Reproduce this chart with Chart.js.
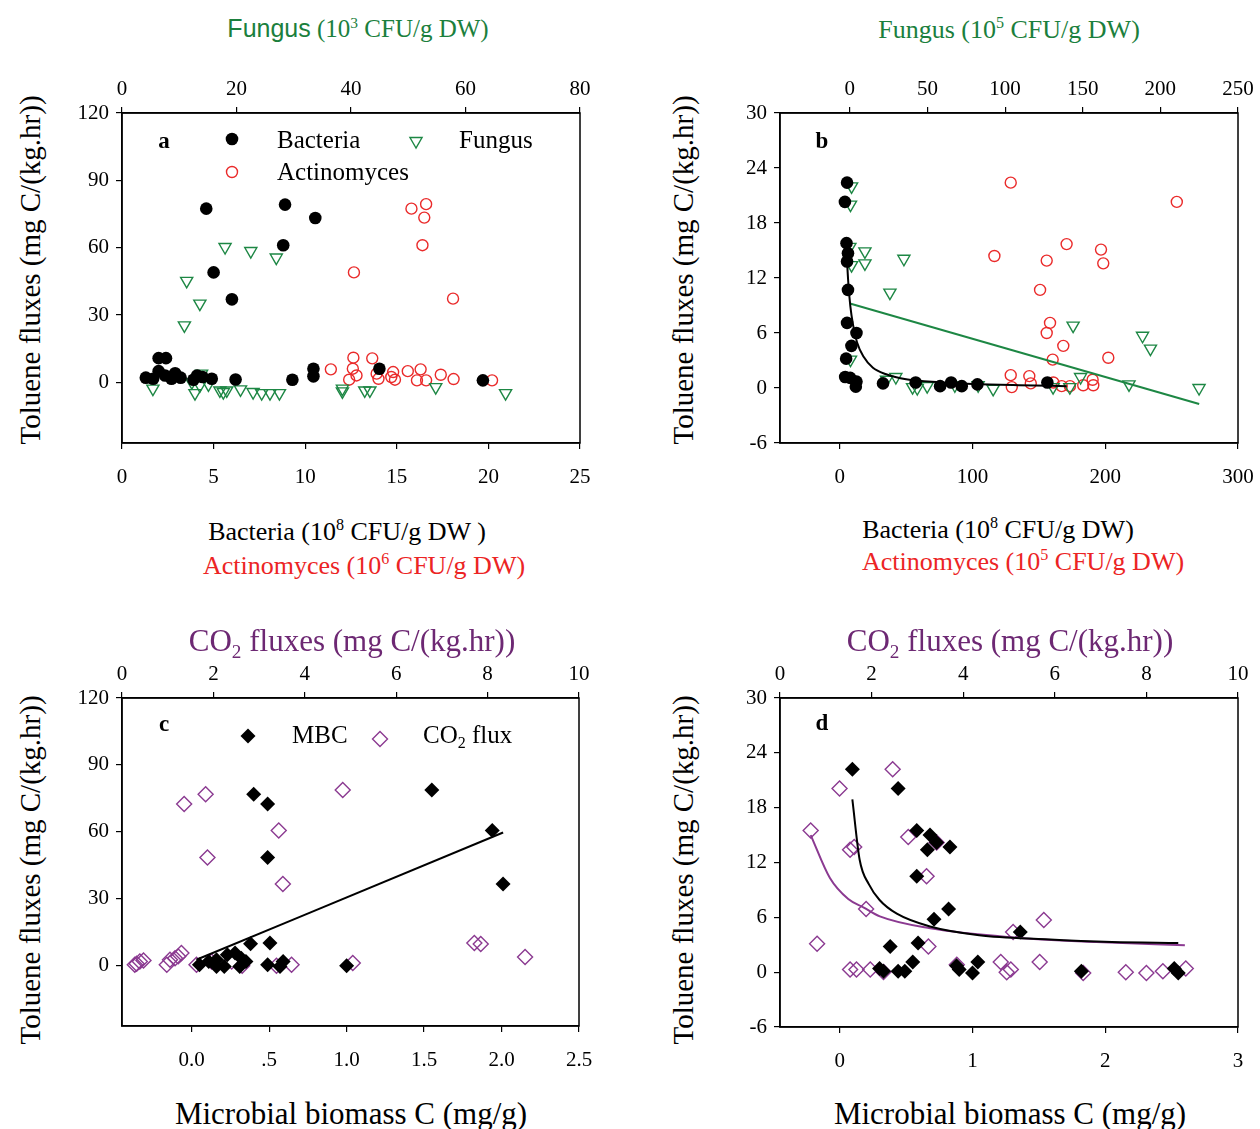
<!DOCTYPE html>
<html>
<head>
<meta charset="utf-8">
<script src="https://cdn.jsdelivr.net/npm/chart.js"></script>
<style>
body { margin: 0; background: #fff; }
#page { position: relative; width: 1260px; height: 1129px; overflow: hidden; font-family: "Liberation Serif", serif; }
canvas { position: absolute; }
.t { position: absolute; transform: translate(-50%, -50%); white-space: nowrap; font-size: 26px; line-height: 1; color: #000; }
.v { transform: translate(-50%, -50%) rotate(-90deg); font-size: 29px; }
.big { font-size: 31px; }
.t sup, .t sub { font-size: 0.62em; line-height: 0; position: relative; vertical-align: baseline; }
.t sup { top: -0.6em; }
.t sub { top: 0.35em; }
.sans { font-family: "Liberation Sans", sans-serif; }
.green { color: #1b7f3d; }
.red { color: #ec2424; }
.purple { color: #6d2873; }
</style>
</head>
<body>
<div id="page">
  <canvas id="chartA" width="560" height="430" style="left:52px;top:63px"></canvas>
  <canvas id="chartB" width="560" height="430" style="left:710px;top:63px"></canvas>
  <canvas id="chartC" width="559" height="428" style="left:52px;top:648px"></canvas>
  <canvas id="chartD" width="560" height="429" style="left:710px;top:648px"></canvas>

  <div class="t green" style="left:358px;top:28px;font-size:25px"><span class="sans">Fungus</span> (10<sup>3</sup> CFU/g DW)</div>
  <div class="t green" style="left:1009px;top:30px">Fungus (10<sup>5</sup> CFU/g DW)</div>
  <div class="t v" style="left:30px;top:270px">Toluene fluxes (mg C/(kg.hr))</div>
  <div class="t v" style="left:683px;top:270px">Toluene fluxes (mg C/(kg.hr))</div>
  <div class="t" style="left:347px;top:532px">Bacteria (10<sup>8</sup> CFU/g DW )</div>
  <div class="t red" style="left:364px;top:566px">Actinomyces (10<sup>6</sup> CFU/g DW)</div>
  <div class="t" style="left:998px;top:530px">Bacteria (10<sup>8</sup> CFU/g DW)</div>
  <div class="t red" style="left:1023px;top:562px">Actinomyces (10<sup>5</sup> CFU/g DW)</div>

  <div class="t big purple" style="left:352px;top:640px">CO<sub>2</sub> fluxes (mg C/(kg.hr))</div>
  <div class="t big purple" style="left:1010px;top:640px">CO<sub>2</sub> fluxes (mg C/(kg.hr))</div>
  <div class="t v" style="left:30px;top:870px">Toluene fluxes (mg C/(kg.hr))</div>
  <div class="t v" style="left:683px;top:870px">Toluene fluxes (mg C/(kg.hr))</div>
  <div class="t big" style="left:351px;top:1113px">Microbial biomass C (mg/g)</div>
  <div class="t big" style="left:1010px;top:1113px">Microbial biomass C (mg/g)</div>
</div>

<script>
const GREEN = "#1d8744";
const RED = "#ea2a2a";
const PURPLE = "#8b3a91";
const TICK_FONT = {family: '"Liberation Serif", serif', size: 21};

// ---- panel a : bacteria / actinomyces (bottom), fungus (top)
const aBottomTicks = [0, 5, 10, 15, 20, 25];
const aTopTicks = [0, 20, 40, 60, 80];
const aYTicks = [0, 30, 60, 90, 120];
const aBactX = [1.3, 1.7, 2.0, 2.4, 2.0, 2.35, 2.7, 2.9, 3.2, 3.9, 4.1, 4.4, 4.9, 6.2, 6.0, 9.3, 10.45, 10.45, 4.6, 8.9, 10.55, 8.8, 5.0, 14.05, 19.7];
const aBactY = [2.1, 1.6, 10.8, 10.8, 5.0, 3.1, 1.6, 4.1, 2.1, 1.2, 3.1, 2.4, 1.6, 1.3, 37.0, 1.2, 6.1, 2.7, 77.4, 79.2, 73.2, 61.1, 49.0, 6.1, 0.9];
const aFungX = [18.0, 22.5, 26.95, 11.3, 13.6, 10.9, 5.4, 12.75, 13.6, 13.9, 15.1, 17.1, 17.7, 18.3, 20.7, 22.9, 24.4, 25.85, 27.5, 38.5, 38.5, 42.4, 43.3, 54.8, 67.0, 12.2];
const aFungY = [60.3, 58.5, 55.6, 45.2, 35.1, 25.4, -2.8, -4.8, -1.3, 3.9, -0.9, -3.6, -4.3, -3.6, -3.1, -4.3, -4.8, -4.8, -4.8, -4.0, -2.8, -3.6, -3.6, -2.1, -4.8, 0.1];
const aActX = [15.8, 16.6, 16.5, 16.4, 12.66, 18.07, 12.63, 13.66, 12.6, 12.8, 12.4, 11.4, 13.9, 14.0, 14.8, 14.7, 14.9, 15.6, 16.3, 16.1, 16.6, 17.4, 18.1, 20.2];
const aActY = [77.4, 79.4, 73.4, 61.1, 49.0, 37.3, 11.0, 10.7, 6.1, 3.1, 1.2, 5.8, 3.9, 1.6, 4.6, 2.4, 1.2, 5.0, 5.8, 0.9, 0.9, 3.4, 1.5, 0.9];

// ---- panel b
const bBottomTicks = [0, 100, 200, 300];
const bTopTicks = [0, 50, 100, 150, 200, 250];
const bYTicks = [-6, 0, 6, 12, 18, 24, 30];
const bBactX = [5.5, 3.9, 5.1, 6.2, 5.5, 6.2, 5.5, 12.6, 8.8, 4.8, 4.1, 7.9, 12.6, 12.1, 32.6, 57.2, 75.6, 83.9, 91.9, 103.7, 156.4];
const bBactY = [22.4, 20.3, 15.8, 14.7, 13.8, 10.7, 7.1, 6.0, 4.6, 3.2, 1.2, 1.1, 0.7, 0.15, 0.5, 0.6, 0.2, 0.6, 0.2, 0.4, 0.6];
const bFungX = [1.1, 0.4, 0, 9.7, 9.7, 1.1, 34.8, 25.8, 143.8, 188.5, 193.6, 0.4, 23.6, 29.6, 40.4, 43.4, 49.8, 67.6, 82.6, 92.3, 130.9, 141.7, 148.6, 179.8, 224.9];
const bFungY = [22.0, 20.0, 15.4, 14.9, 13.6, 13.4, 14.1, 10.4, 6.8, 5.7, 4.3, 3.1, 0.9, 1.2, 0.1, 0.0, 0.2, 0.3, 0.3, -0.1, 0.1, 0.1, 1.2, 0.4, 0.0];
const bActX = [128.8, 116.5, 253.9, 170.9, 196.8, 198.5, 155.9, 150.9, 158.4, 155.9, 168.4, 202.3, 160.4, 128.8, 142.8, 129.6, 143.9, 160.9, 167.2, 173.4, 183.4, 190.5, 191.0];
const bActY = [22.4, 14.4, 20.3, 15.7, 15.1, 13.6, 13.9, 10.7, 7.1, 6.0, 4.6, 3.3, 3.1, 1.4, 1.3, 0.1, 0.5, 0.6, 0.2, 0.2, 0.3, 0.9, 0.3];
const bBactFitX = [5.0, 5.5, 6.5, 8, 10, 13, 18, 25, 35, 50, 75, 100, 135, 171];
const bBactFitY = [15.5, 13.9, 11.4, 8.9, 6.9, 5.0, 3.4, 2.2, 1.5, 0.95, 0.62, 0.44, 0.3, 0.2];
const bFungFitX = [0.6, 225];
const bFungFitY = [9.2, -1.75];

// ---- panel c
const cBottomTicks = [0, 0.5, 1, 1.5, 2, 2.5];
const cBottomLabels = ["0.0", ".5", "1.0", "1.5", "2.0", "2.5"];
const cTopTicks = [0, 2, 4, 6, 8, 10];
const cYTicks = [0, 30, 60, 90, 120];
const cMbcX = [0.40, 0.49, 0.49, 1.55, 1.94, 2.01, 0.38, 0.505, 0.05, 0.16, 0.21, 0.23, 0.28, 0.32, 0.35, 0.31, 0.16, 0.11, 0.49, 0.59, 0.57, 1.0];
const cMbcY = [76.9, 72.5, 48.5, 78.8, 60.6, 36.6, 9.9, 10.2, 0.4, -0.3, -0.3, 4.9, 5.7, 3.4, 1.9, -0.3, 2.7, 1.9, 0.4, 1.9, -0.3, 0.0];
const cCo2X = [1.36, 1.83, 1.87, 4.83, 3.43, 3.52, 0.32, 0.39, 0.47, 0.28, 0.98, 1.05, 1.16, 1.23, 1.30, 1.63, 1.96, 2.40, 2.63, 3.38, 3.71, 5.05, 7.71, 7.85, 8.82];
const cCo2Y = [72.5, 76.9, 48.5, 78.8, 60.6, 36.6, 0.9, 1.9, 2.4, 0.4, 0.4, 2.7, 3.4, 4.2, 5.7, 0.4, 1.9, 1.9, 0, 0, 0.4, 1.2, 10.2, 9.7, 3.9];
const cFitX = [0.03, 2.01];
const cFitY = [2.7, 59.7];

// ---- panel d
const dBottomTicks = [0, 1, 2, 3];
const dTopTicks = [0, 2, 4, 6, 8, 10];
const dYTicks = [-6, 0, 6, 12, 18, 24, 30];
const dMbcX = [0.095, 0.44, 0.58, 0.68, 0.73, 0.66, 0.83, 0.58, 0.82, 0.71, 1.36, 0.38, 0.59, 0.55, 0.30, 0.33, 0.44, 0.49, 0.88, 0.90, 1.04, 1.0, 1.82, 2.52, 2.55];
const dMbcY = [22.2, 20.1, 15.5, 15.0, 14.2, 13.4, 13.7, 10.5, 6.9, 5.8, 4.4, 2.8, 3.2, 1.1, 0.4, 0.1, 0.1, 0.1, 0.7, 0.3, 1.1, -0.1, 0.1, 0.4, -0.1];
const dCo2X = [2.46, 1.30, 0.67, 2.80, 3.42, 1.53, 1.62, 3.20, 1.88, 3.24, 0.81, 5.09, 5.76, 1.53, 1.67, 1.97, 2.26, 3.86, 4.82, 4.95, 5.04, 5.67, 6.62, 7.55, 8.0, 8.36, 8.86];
const dCo2Y = [22.2, 20.1, 15.5, 14.8, 14.2, 13.4, 13.7, 10.5, 6.9, 2.8, 3.1, 4.4, 5.7, 0.3, 0.3, 0.3, 0.03, 0.8, 1.1, 0, 0.3, 1.1, -0.1, 0, -0.1, 0.1, 0.4];
const dMbcFitX = [0.095, 0.15, 0.22, 0.30, 0.43, 0.68, 1.05, 1.55, 2.05, 2.55];
const dMbcFitY = [18.9, 12.3, 9.6, 7.9, 6.4, 5.0, 4.05, 3.6, 3.3, 3.2];
const dCo2FitX = [0.67, 1.09, 1.49, 1.82, 2.18, 3.28, 5.09, 6.91, 8.84];
const dCo2FitY = [15.0, 10.3, 8.0, 7.1, 6.1, 4.8, 3.8, 3.3, 2.95];

function pts(xs, ys) {
    return xs.map((x, i) => ({x: x, y: ys[i]}));
}

function makeAxis(position, min, max, ticks, labels) {
    return {
        type: "linear",
        position: position,
        min: min,
        max: max,
        grid: {drawOnChartArea: false, drawTicks: true, tickLength: 6, color: "#000", lineWidth: 1.2},
        border: {display: true, color: "#000", width: 1.5},
        afterBuildTicks: axis => { axis.ticks = ticks.map(v => ({value: v})); },
        afterFit: axis => {
            if (position === "left") axis.width = 70;
            else axis.height = 50;
        },
        ticks: {
            color: "#000",
            font: TICK_FONT,
            autoSkip: false,
            maxRotation: 0,
            padding: position === "bottom" ? 16 : (position === "top" ? 5 : 7),
            callback: (value, index) => labels ? labels[index] : value
        }
    };
}

function markers(label, xs, ys, style, color, filled, radius, xAxisID, rotation) {
    return {
        label: label,
        data: pts(xs, ys),
        xAxisID: xAxisID,
        yAxisID: "y",
        pointStyle: style,
        pointRadius: radius,
        pointHoverRadius: radius,
        pointRotation: rotation || 0,
        pointBackgroundColor: filled ? color : "rgba(0,0,0,0)",
        pointBorderColor: color,
        pointBorderWidth: filled ? 0 : 1.4,
        showLine: false,
        order: 2
    };
}

function fitLine(xs, ys, color, xAxisID) {
    return {
        data: pts(xs, ys),
        xAxisID: xAxisID,
        yAxisID: "y",
        showLine: true,
        pointRadius: 0,
        borderColor: color,
        borderWidth: 2,
        fill: false,
        cubicInterpolationMode: "monotone",
        order: 1
    };
}

function drawMarker(ctx, ds, x, y) {
    const r = ds.pointRadius;
    ctx.save();
    ctx.fillStyle = ds.pointBackgroundColor;
    ctx.strokeStyle = ds.pointBorderColor;
    ctx.lineWidth = ds.pointBorderWidth;
    ctx.beginPath();
    if (ds.pointStyle === "circle") {
        ctx.arc(x, y, r, 0, Math.PI * 2);
    } else if (ds.pointStyle === "triangle") {
        ctx.moveTo(x, y + r);
        ctx.lineTo(x - r * 0.866, y - r / 2);
        ctx.lineTo(x + r * 0.866, y - r / 2);
        ctx.closePath();
    } else {
        ctx.moveTo(x, y - r);
        ctx.lineTo(x + r, y);
        ctx.lineTo(x, y + r);
        ctx.lineTo(x - r, y);
        ctx.closePath();
    }
    ctx.fill();
    if (ds.pointBorderWidth > 0) ctx.stroke();
    ctx.restore();
}

function drawRich(ctx, parts, x, y, size) {
    parts.forEach(p => {
        const s = p.sub ? Math.round(size * 0.65) : size;
        ctx.font = s + 'px "Liberation Serif", serif';
        ctx.fillText(p.text, x, p.sub ? y + size * 0.3 : y);
        x += ctx.measureText(p.text).width;
    });
}

// panel letter + inner legend
const panelKey = {
    id: "panelKey",
    afterDraw(chart, args, opts) {
        const ctx = chart.ctx;
        const area = chart.chartArea;
        ctx.save();
        ctx.fillStyle = "#000";
        ctx.textBaseline = "middle";
        ctx.textAlign = "center";
        ctx.font = 'bold 23px "Liberation Serif", serif';
        ctx.fillText(opts.letter, area.left + opts.letterAt[0], area.top + opts.letterAt[1]);
        ctx.textAlign = "left";
        (opts.items || []).forEach(item => {
            const ds = chart.data.datasets[item.dataset];
            drawMarker(ctx, ds, area.left + item.mark[0], area.top + item.mark[1]);
            ctx.fillStyle = "#000";
            drawRich(ctx, item.text, area.left + item.at[0], area.top + item.at[1], 25);
        });
        ctx.restore();
    }
};

// right-hand side of the frame
const frame = {
    id: "frame",
    afterDraw(chart) {
        const ctx = chart.ctx;
        const a = chart.chartArea;
        ctx.save();
        ctx.strokeStyle = "#000";
        ctx.lineWidth = 1.5;
        ctx.strokeRect(a.left, a.top, a.right - a.left, a.bottom - a.top);
        ctx.restore();
    }
};

function makePanel(id, datasets, scales, key) {
    return new Chart(document.getElementById(id), {
        type: "scatter",
        data: {datasets: datasets},
        options: {
            responsive: false,
            animation: false,
            events: [],
            layout: {padding: {left: 0, top: 0, right: 32, bottom: 0}},
            scales: scales,
            plugins: {
                legend: {display: false},
                tooltip: {enabled: false},
                panelKey: key
            }
        },
        plugins: [frame, panelKey]
    });
}

makePanel("chartA", [
    markers("Bacteria", aBactX, aBactY, "circle", "#000", true, 6.3, "x"),
    markers("Fungus", aFungX, aFungY, "triangle", GREEN, false, 7, "x2", 180),
    markers("Actinomyces", aActX, aActY, "circle", RED, false, 5.5, "x")
], {
    x: makeAxis("bottom", 0, 25, aBottomTicks),
    x2: makeAxis("top", 0, 80, aTopTicks),
    y: makeAxis("left", -27, 120, aYTicks)
}, {
    letter: "a", letterAt: [42, 29],
    items: [
        {dataset: 0, mark: [110, 26], at: [155, 28], text: [{text: "Bacteria"}]},
        {dataset: 1, mark: [294, 28], at: [337, 28], text: [{text: "Fungus"}]},
        {dataset: 2, mark: [110, 59], at: [155, 60], text: [{text: "Actinomyces"}]}
    ]
});

makePanel("chartB", [
    markers("Bacteria", bBactX, bBactY, "circle", "#000", true, 6.3, "x"),
    markers("Fungus", bFungX, bFungY, "triangle", GREEN, false, 7, "x2", 180),
    markers("Actinomyces", bActX, bActY, "circle", RED, false, 5.5, "x"),
    fitLine(bBactFitX, bBactFitY, "#000", "x"),
    fitLine(bFungFitX, bFungFitY, GREEN, "x2")
], {
    x: makeAxis("bottom", -45, 300, bBottomTicks),
    x2: makeAxis("top", -45, 250, bTopTicks),
    y: makeAxis("left", -6, 30, bYTicks)
}, {letter: "b", letterAt: [42, 29], items: []});

makePanel("chartC", [
    markers("MBC", cMbcX, cMbcY, "rectRot", "#000", true, 7.5, "x"),
    markers("CO2 flux", cCo2X, cCo2Y, "rectRot", PURPLE, false, 7.5, "x2"),
    fitLine(cFitX, cFitY, "#000", "x")
], {
    x: makeAxis("bottom", -0.45, 2.5, cBottomTicks, cBottomLabels),
    x2: makeAxis("top", 0, 10, cTopTicks),
    y: makeAxis("left", -27, 120, cYTicks)
}, {
    letter: "c", letterAt: [42, 27],
    items: [
        {dataset: 0, mark: [126, 38], at: [170, 38], text: [{text: "MBC"}]},
        {dataset: 1, mark: [258, 41], at: [301, 38], text: [{text: "CO"}, {text: "2", sub: true}, {text: " flux"}]}
    ]
});

makePanel("chartD", [
    markers("MBC", dMbcX, dMbcY, "rectRot", "#000", true, 7.5, "x"),
    markers("CO2 flux", dCo2X, dCo2Y, "rectRot", PURPLE, false, 7.5, "x2"),
    fitLine(dMbcFitX, dMbcFitY, "#000", "x"),
    fitLine(dCo2FitX, dCo2FitY, PURPLE, "x2")
], {
    x: makeAxis("bottom", -0.45, 3, dBottomTicks),
    x2: makeAxis("top", 0, 10, dTopTicks),
    y: makeAxis("left", -6, 30, dYTicks)
}, {letter: "d", letterAt: [42, 26], items: []});
</script>
</body>
</html>
